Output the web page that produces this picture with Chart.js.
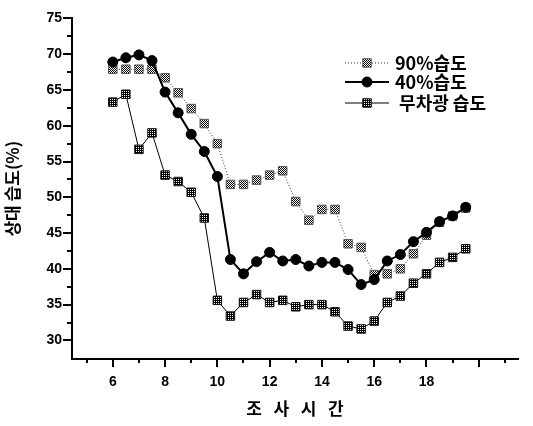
<!DOCTYPE html>
<html>
<head>
<meta charset="utf-8">
<script src="https://cdn.jsdelivr.net/npm/chart.js@4.4.0/dist/chart.umd.min.js"></script>
<style>
  html, body { margin: 0; padding: 0; background: #fff; }
</style>
</head>
<body>
<canvas id="chart" width="533" height="426"></canvas>
<script>
// survey time (hour of day), every half hour
const hours = [6, 6.5, 7, 7.5, 8, 8.5, 9, 9.5, 10, 10.5, 11, 11.5, 12, 12.5,
               13, 13.5, 14, 14.5, 15, 15.5, 16, 16.5, 17, 17.5, 18, 18.5, 19, 19.5];

// relative humidity (%)
const humid90 = [67.9, 67.9, 67.9, 67.9, 66.7, 64.6, 62.4, 60.3, 57.5, 51.8, 51.8, 52.4, 53.1, 53.7,
                 49.4, 46.8, 48.3, 48.3, 43.5, 43.0, 39.2, 39.3, 40.0, 42.1, 44.7, 46.5, 47.4, 48.5];
const humid40 = [68.9, 69.5, 69.9, 69.1, 64.7, 61.8, 58.8, 56.4, 52.9, 41.3, 39.3, 41.0, 42.3, 41.1,
                 41.3, 40.4, 40.9, 40.9, 39.9, 37.8, 38.5, 41.1, 42.0, 43.8, 45.1, 46.6, 47.4, 48.6];
const humidShade = [63.3, 64.4, 56.7, 59.0, 53.1, 52.2, 50.7, 47.1, 35.6, 33.4, 35.3, 36.4, 35.3, 35.6,
                    34.7, 35.0, 35.0, 34.0, 32.0, 31.6, 32.7, 35.3, 36.2, 38.0, 39.3, 40.9, 41.6, 42.8];

const seriesLabels = ['90%습도', '40%습도', ' 무차광 습도'];

// tick labels and tick marks
const xTickLabels = [6, 8, 10, 12, 14, 16, 18];
const xMajorTicks = [6, 8, 10, 12, 14, 16, 18, 20];
const xMinorTicks = [5, 7, 9, 11, 13, 15, 17, 19, 21];
const yTickLabels = [30, 35, 40, 45, 50, 55, 60, 65, 70, 75];
const yMinorTicks = [32.5, 37.5, 42.5, 47.5, 52.5, 57.5, 62.5, 67.5, 72.5];

const tickFont = { family: "'Liberation Sans', Arial, sans-serif", size: 14, weight: 'bold' };
const krFont = "'Noto Sans CJK KR', 'Liberation Sans', sans-serif";

// small checkered fill for the square markers
function hatch(dark) {
    const c = document.createElement('canvas');
    c.width = 2; c.height = 2;
    const g = c.getContext('2d');
    g.fillStyle = '#fff';
    g.fillRect(0, 0, 2, 2);
    g.fillStyle = '#000';
    g.fillRect(0, 0, 1, 1);
    g.fillRect(1, 1, 1, 1);
    if (dark) g.fillRect(1, 0, 1, 1);
    return g.createPattern(c, 'repeat');
}

function toPoints(values) {
    return hours.map((h, i) => ({ x: h, y: values[i] }));
}

// tick marks: long majors, short minors, pointing out of the plot
const axisTicks = {
    id: 'axisTicks',
    afterDraw(chart) {
        const { ctx, chartArea: a, scales: { x, y } } = chart;
        ctx.save();
        ctx.strokeStyle = '#000';
        ctx.lineWidth = 2;
        ctx.beginPath();
        for (const v of xMajorTicks) {
            const px = Math.round(x.getPixelForValue(v));
            ctx.moveTo(px, a.bottom); ctx.lineTo(px, a.bottom + 8);
        }
        for (const v of xMinorTicks) {
            const px = Math.round(x.getPixelForValue(v));
            ctx.moveTo(px, a.bottom); ctx.lineTo(px, a.bottom + 4);
        }
        for (const v of yTickLabels) {
            const py = Math.round(y.getPixelForValue(v));
            ctx.moveTo(a.left, py); ctx.lineTo(a.left - 9, py);
        }
        for (const v of yMinorTicks) {
            const py = Math.round(y.getPixelForValue(v));
            ctx.moveTo(a.left, py); ctx.lineTo(a.left - 5, py);
        }
        ctx.stroke();
        ctx.restore();
    }
};

// legend box in the upper right, line + marker + text
const lineLegend = {
    id: 'lineLegend',
    afterDraw(chart) {
        const ctx = chart.ctx;
        const rowY = [63, 82, 103];
        chart.data.datasets.forEach((ds, i) => {
            const y = rowY[i];
            ctx.save();
            ctx.strokeStyle = ds.borderColor;
            ctx.lineWidth = ds.borderWidth;
            ctx.setLineDash(ds.borderDash || []);
            ctx.beginPath();
            ctx.moveTo(345, y);
            ctx.lineTo(389, y);
            ctx.stroke();
            ctx.setLineDash([]);
            ctx.fillStyle = ds.pointBackgroundColor;
            ctx.strokeStyle = ds.pointBorderColor;
            ctx.lineWidth = ds.pointBorderWidth;
            Chart.helpers.drawPoint(ctx, {
                pointStyle: ds.pointStyle,
                radius: ds.pointRadius,
                borderWidth: ds.pointBorderWidth
            }, 367, y);
            ctx.fillStyle = '#000';
            ctx.font = "bold 18px " + krFont;
            ctx.textBaseline = 'middle';
            ctx.fillText(ds.label, 395, y);
            ctx.restore();
        });
    }
};

const ctx = document.getElementById('chart').getContext('2d');

new Chart(ctx, {
    type: 'line',
    data: {
        datasets: [
            {
                label: seriesLabels[0],
                data: toPoints(humid90),
                borderColor: '#333',
                borderWidth: 1,
                borderDash: [1, 2],
                pointStyle: 'rect',
                pointRadius: 6,
                pointBackgroundColor: hatch(false),
                pointBorderColor: '#555',
                pointBorderWidth: 1,
                order: 2
            },
            {
                label: seriesLabels[1],
                data: toPoints(humid40),
                borderColor: '#000',
                borderWidth: 2,
                pointStyle: 'circle',
                pointRadius: 5,
                pointBackgroundColor: '#000',
                pointBorderColor: '#000',
                pointBorderWidth: 1,
                order: 1
            },
            {
                label: seriesLabels[2],
                data: toPoints(humidShade),
                borderColor: '#000',
                borderWidth: 1,
                pointStyle: 'rect',
                pointRadius: 6,
                pointBackgroundColor: hatch(true),
                pointBorderColor: '#111',
                pointBorderWidth: 1,
                order: 3
            }
        ]
    },
    options: {
        responsive: false,
        animation: false,
        layout: { padding: { top: 14, right: 0, bottom: 0, left: 0 } },
        elements: { line: { tension: 0 } },
        plugins: {
            legend: { display: false },
            tooltip: { enabled: false }
        },
        scales: {
            x: {
                type: 'linear',
                min: 4.44,
                max: 21.5,
                afterFit: s => { s.height = 67; },
                grid: { display: false, drawTicks: false },
                border: { display: true, color: '#000', width: 2 },
                ticks: {
                    stepSize: 1,
                    autoSkip: false,
                    maxRotation: 0,
                    padding: 15,
                    color: '#000',
                    font: tickFont,
                    callback: v => xTickLabels.includes(v) ? String(v) : ''
                },
                title: {
                    display: true,
                    text: '조   사   시   간',
                    color: '#000',
                    font: { family: krFont, size: 17, weight: 'bold' },
                    padding: { top: 0, bottom: 7 }
                }
            },
            y: {
                min: 27.4,
                max: 75,
                afterFit: s => { s.width = 72; },
                grid: { display: false, drawTicks: false },
                border: { display: true, color: '#000', width: 2 },
                ticks: {
                    stepSize: 5,
                    autoSkip: false,
                    padding: 10,
                    color: '#000',
                    font: tickFont,
                    callback: v => yTickLabels.includes(v) ? String(v) : ''
                },
                title: {
                    display: true,
                    text: '상대 습도(%)',
                    color: '#000',
                    font: { family: krFont, size: 17, weight: 'bold' },
                    padding: { top: 2, bottom: 0 }
                }
            }
        }
    },
    plugins: [axisTicks, lineLegend]
});
</script>
</body>
</html>
